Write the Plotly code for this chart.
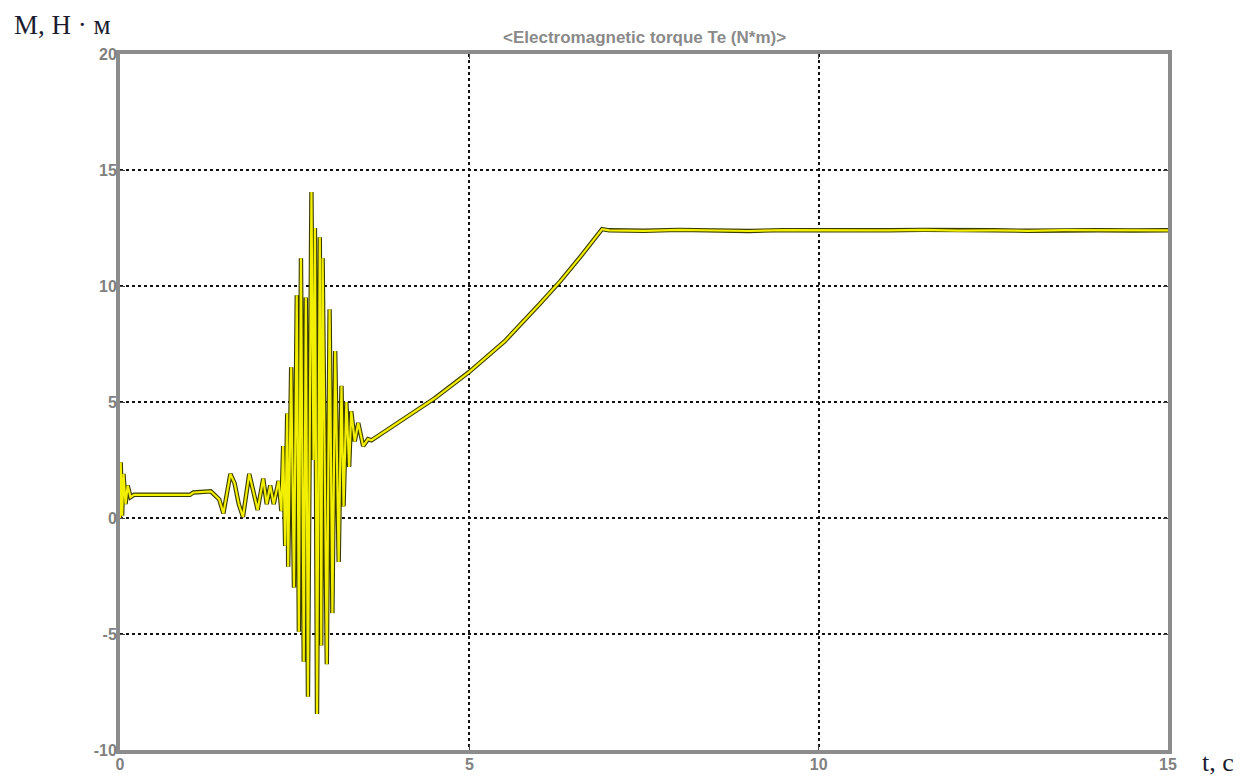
import plotly.graph_objects as go

# Electromagnetic torque Te (N*m) versus time, s
t = [0.0, 0.01, 0.03, 0.05, 0.08, 0.11, 0.15, 0.2, 1.0, 1.05, 1.3, 1.42, 1.48,
     1.58, 1.64, 1.70, 1.76, 1.85, 1.92, 1.97, 2.05, 2.10, 2.15, 2.20, 2.27, 2.31,
     2.335, 2.364, 2.393, 2.407, 2.45, 2.49, 2.53, 2.56, 2.59, 2.63, 2.66, 2.69,
     2.74, 2.77, 2.79, 2.82, 2.86, 2.88, 2.90, 2.96, 3.00, 3.04, 3.08, 3.13, 3.17,
     3.20, 3.24, 3.28, 3.31, 3.36, 3.41, 3.48, 3.55, 3.6, 3.8, 4.0, 4.2, 4.5, 5.0,
     5.5, 6.0, 6.3, 6.6, 6.9, 7.0, 7.5, 8.0, 8.5, 9.0, 9.5, 10.0, 10.5, 11.0,
     11.5, 12.0, 12.5, 13.0, 13.5, 14.0, 14.5, 15.0]
te = [0.0, 2.4, 0.1, 1.9, 0.6, 1.4, 0.9, 1.0, 1.0, 1.1, 1.15, 0.8, 0.2,
      1.9, 1.5, 0.6, 0.05, 1.9, 1.0, 0.35, 1.7, 0.6, 1.4, 0.6, 1.6, 0.3,
      3.1, -1.2, 4.5, -2.1, 6.5, -3.0, 9.6, -4.9, 11.2, -6.2, 9.5, -7.7,
      14.05, 2.5, 12.5, -8.45, 12.1, -5.5, 11.2, -6.3, 9.0, -4.1, 7.2, -1.9, 5.7,
      0.5, 5.0, 2.2, 4.6, 3.3, 4.1, 3.1, 3.4, 3.35, 3.75, 4.15, 4.55, 5.15, 6.3,
      7.6, 9.2, 10.2, 11.3, 12.45, 12.4, 12.38, 12.42, 12.4, 12.37, 12.41, 12.4, 12.38, 12.4,
      12.42, 12.39, 12.4, 12.38, 12.41, 12.4, 12.39, 12.4]

x_ticks = [0, 5, 10, 15]
x_labels = ["0", "5", "10", "15"]
y_ticks = [-10, -5, 0, 5, 10, 15, 20]
y_labels = ["-10", "-5", "0", "5", "10", "15", "20"]

fig = go.Figure()
# dark outline under the yellow trace
fig.add_trace(go.Scatter(x=t, y=te, mode="lines",
                         line=dict(color="#3b3b00", width=4.4), hoverinfo="skip"))
fig.add_trace(go.Scatter(x=t, y=te, mode="lines",
                         line=dict(color="#f2ef00", width=2.2)))

tick_font = dict(family="Liberation Sans", size=16, color="#808080", weight="bold")
axis_common = dict(
    showline=True, linecolor="#8c8c8c", linewidth=4, mirror="ticks",
    ticks="inside", ticklen=5, tickcolor="#444444", tickwidth=1,
    showgrid=True, gridcolor="#111111", griddash="dot", gridwidth=1.6,
    zeroline=False, tickfont=tick_font, automargin=False,
)

fig.update_layout(
    width=1250, height=778,
    margin=dict(l=120, r=82, t=54, b=28),
    paper_bgcolor="white", plot_bgcolor="white",
    showlegend=False,
    xaxis=dict(range=[0, 15], tickvals=x_ticks, ticktext=x_labels,
               ticklabelstandoff=-3, **axis_common),
    yaxis=dict(range=[-10, 20], tickvals=y_ticks, ticktext=y_labels,
               ticklabelstandoff=-4, **axis_common),
    annotations=[
        dict(text="&lt;Electromagnetic torque Te (N*m)&gt;", xref="paper", yref="paper",
             x=0.5, y=1.0, yshift=17, yanchor="middle", showarrow=False,
             font=dict(family="Liberation Sans", size=17, color="#8a8a8a", weight="bold")),
        dict(text="М, Н · м", xref="paper", yref="paper", x=0, y=1.0,
             xanchor="right", yanchor="middle", xshift=-7, yshift=29, showarrow=False,
             font=dict(family="Liberation Serif", size=27, color="#1c1c30")),
        dict(text="t, с", xref="paper", yref="paper", x=1.0, y=0,
             xanchor="left", yanchor="middle", xshift=32, yshift=-12, showarrow=False,
             font=dict(family="Liberation Serif", size=26, color="#1c1c30")),
    ],
)

fig.write_html("out.html")
